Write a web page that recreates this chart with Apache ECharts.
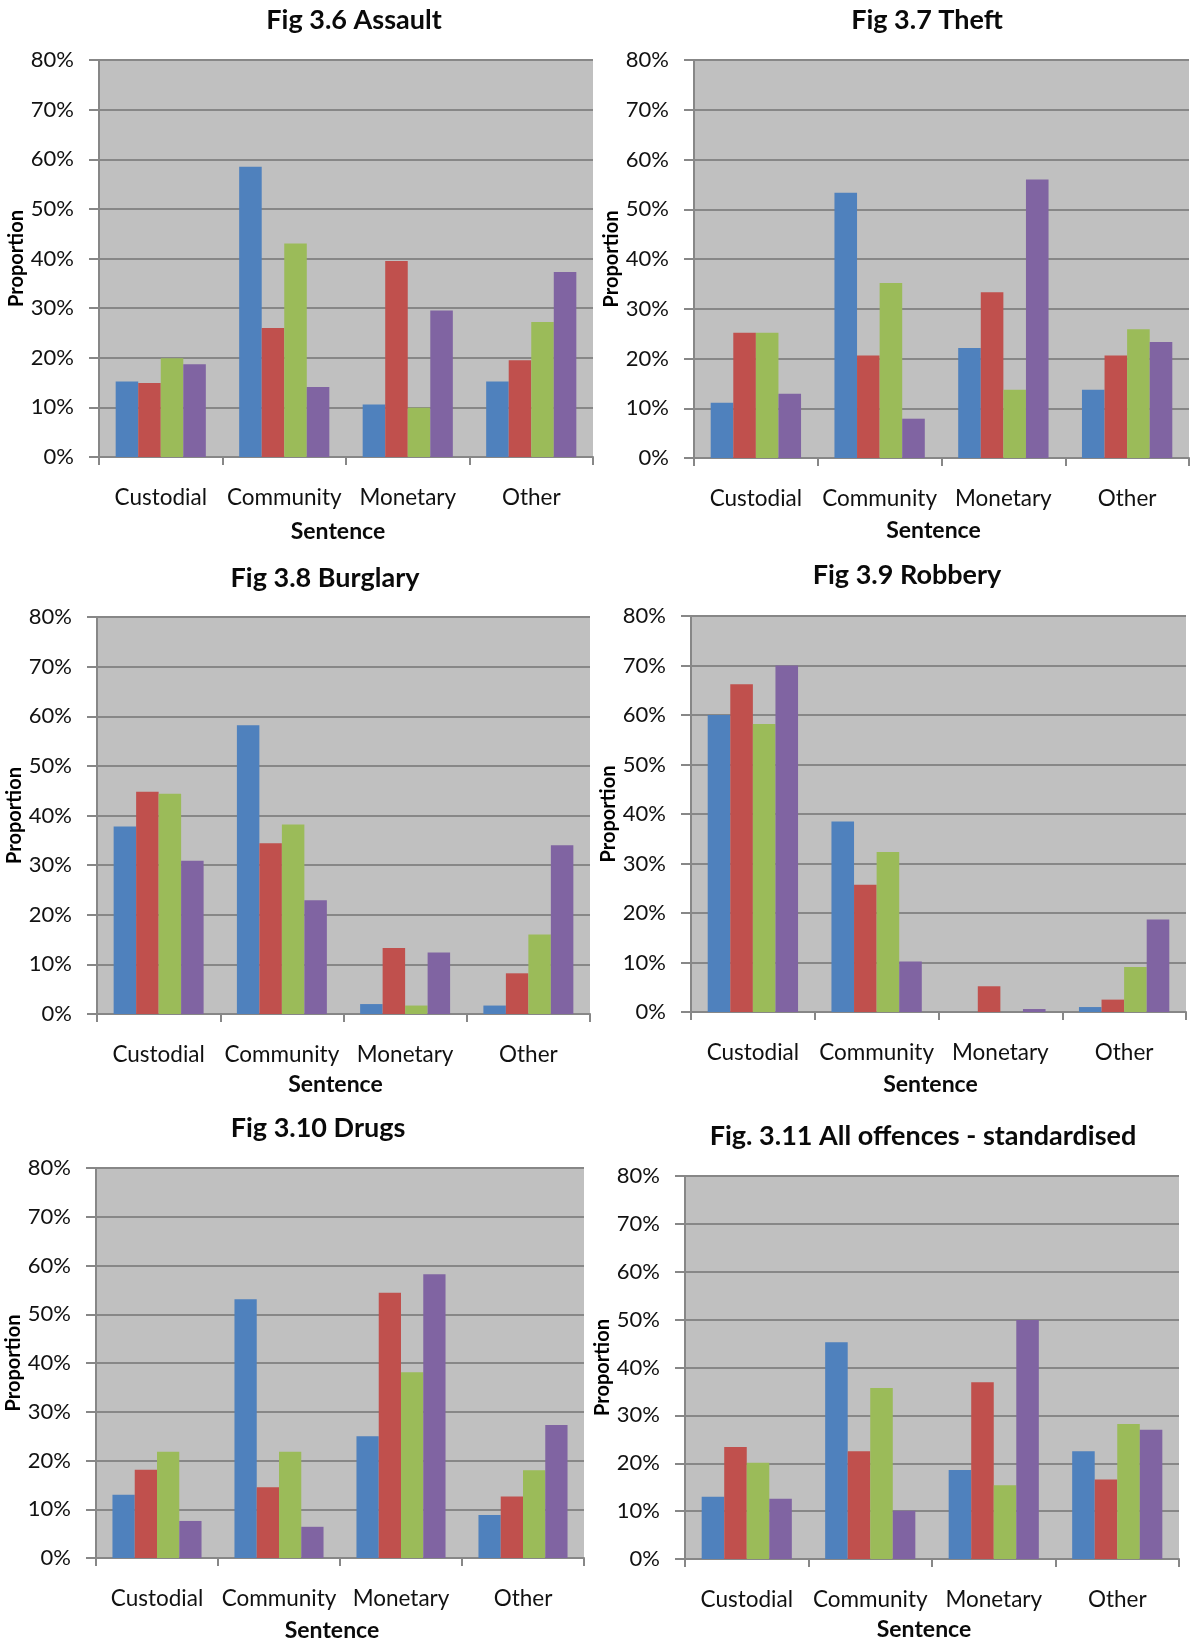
<!DOCTYPE html>
<html>
<head>
<meta charset="utf-8">
<title>Sentence outcomes by offence</title>
<script src="https://cdn.jsdelivr.net/npm/echarts@6/dist/echarts.min.js"></script>
<style>
  html, body { margin: 0; padding: 0; background: #ffffff; }
  #chart { width: 1192px; height: 1643px; }
</style>
</head>
<body>
<div id="chart"></div>
<script>
// Sentence categories on every x axis
const categories = ['Custodial', 'Community', 'Monetary', 'Other'];

// Proportions (%) per group; each row is one coloured series across the four sentences
const assault  = [[15.2, 58.5, 10.6, 15.2], [14.9, 26.0, 39.5, 19.5], [19.9, 43.0, 9.9, 27.2], [18.7, 14.1, 29.5, 37.3]];
const theft    = [[11.1, 53.3, 22.1, 13.7], [25.2, 20.6, 33.3, 20.6], [25.2, 35.2, 13.7, 25.9], [12.9, 7.9, 56.0, 23.3]];
const burglary = [[37.8, 58.2, 2.0, 1.7], [44.8, 34.4, 13.3, 8.2], [44.4, 38.2, 1.7, 16.0], [30.9, 22.9, 12.4, 34.0]];
const robbery  = [[60.0, 38.5, 0, 1.0], [66.2, 25.7, 5.2, 2.5], [58.2, 32.3, 0, 9.1], [70.0, 10.2, 0.6, 18.7]];
const drugs    = [[13.0, 53.1, 25.0, 8.8], [18.1, 14.5, 54.4, 12.6], [21.8, 21.8, 38.1, 18.0], [7.6, 6.4, 58.2, 27.3]];
const allOffences = [[13.0, 45.3, 18.6, 22.5], [23.4, 22.5, 36.9, 16.6], [20.1, 35.7, 15.4, 28.2], [12.6, 10.1, 49.9, 27.0]];

// Y axis scale (percent)
const yMin = 0, yMax = 80, yStep = 10;

const titles = ['Fig 3.6 Assault', 'Fig 3.7 Theft', 'Fig 3.8 Burglary', 'Fig 3.9 Robbery', 'Fig 3.10 Drugs', 'Fig. 3.11 All offences - standardised'];
const panels = [assault, theft, burglary, robbery, drugs, allOffences];
const seriesColors = ['#4F81BD', '#C0504D', '#9BBB59', '#8064A2'];

// Panel layout: plot box [left, top, right, bottom], title centre [x, y], x-axis name gap
const layout = [
  { box: [99, 60, 593, 457], title: [349, 22], nameGap: 63 },
  { box: [694, 60, 1189, 458], title: [922, 22], nameGap: 61 },
  { box: [97, 617, 590, 1014], title: [320, 580], nameGap: 59 },
  { box: [691, 616, 1186, 1012], title: [902, 577], nameGap: 61 },
  { box: [96, 1168, 584, 1559], title: [313, 1130], nameGap: 61 },
  { box: [685, 1176, 1179, 1559], title: [918, 1138], nameGap: 59 }
];

const FONT = 'Lato, "Open Sans", sans-serif';
const gridLineColor = '#878787';

const option = {
  animation: false,
  backgroundColor: '#ffffff',
  title: [], grid: [], xAxis: [], yAxis: [], series: []
};

panels.forEach((rows, i) => {
  const [l, t, r, b] = layout[i].box;
  option.title.push({
    text: titles[i],
    left: layout[i].title[0],
    top: layout[i].title[1] - 20,
    textAlign: 'center',
    textStyle: { fontFamily: FONT, fontWeight: 'bold', fontSize: 27, color: '#0a0a0a' }
  });
  option.grid.push({
    left: l, top: t, width: r - l, height: b - t,
    show: true, backgroundColor: '#C0C0C0', borderWidth: 0
  });
  option.xAxis.push({
    type: 'category', gridIndex: i, data: categories,
    name: 'Sentence', nameLocation: 'middle', nameGap: layout[i].nameGap,
    nameTextStyle: { fontFamily: FONT, fontWeight: 'bold', fontSize: 23, color: '#0a0a0a', padding: [0, 16, 0, 0] },
    axisLine: { lineStyle: { color: gridLineColor, width: 2 } },
    axisTick: { show: true, length: 8, lineStyle: { color: gridLineColor, width: 2 } },
    axisLabel: { margin: 29, fontFamily: FONT, fontSize: 22.5, color: '#111', interval: 0 },
    splitLine: { show: false }
  });
  option.yAxis.push({
    type: 'value', gridIndex: i, min: yMin, max: yMax, interval: yStep,
    name: 'Proportion', nameLocation: 'middle', nameGap: 71, nameRotate: 90,
    nameTextStyle: { fontFamily: FONT, fontWeight: 'bold', fontSize: 20, color: '#000' },
    axisLine: { show: true, lineStyle: { color: gridLineColor, width: 2 } },
    axisTick: { show: true, length: 10, lineStyle: { color: gridLineColor, width: 2 } },
    axisLabel: { margin: 25, fontFamily: FONT, fontSize: 22, color: '#111', formatter: '{value}%' },
    splitLine: { show: true, lineStyle: { color: gridLineColor, width: 2 } }
  });
  rows.forEach((vals, s) => {
    option.series.push({
      type: 'bar', xAxisIndex: i, yAxisIndex: i,
      name: 'S' + (s + 1), data: vals,
      barGap: '0%', barCategoryGap: '27%',
      itemStyle: { color: seriesColors[s] },
      silent: true
    });
  });
});

const chart = echarts.init(document.getElementById('chart'), null, { renderer: 'canvas' });
chart.setOption(option);
</script>
</body>
</html>
